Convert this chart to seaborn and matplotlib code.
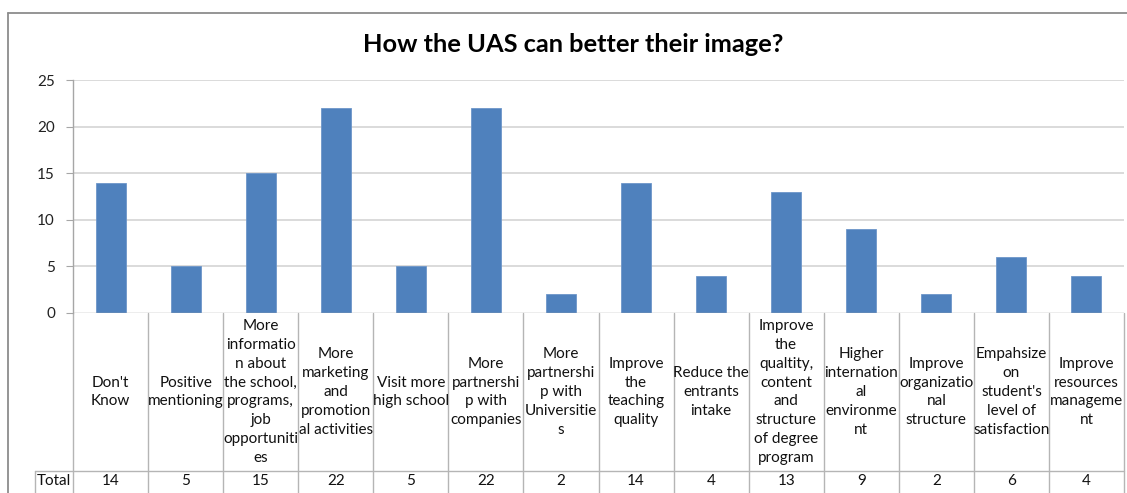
import matplotlib
matplotlib.use("Agg")
import matplotlib.pyplot as plt
from matplotlib.lines import Line2D
import seaborn as sns
import pandas as pd

# Survey answers: wrapped category names as shown in the data table
categories = [
    "Don't\nKnow",
    "Positive\nmentioning",
    "More\ninformatio\nn about\nthe school,\nprograms,\njob\nopportuniti\nes",
    "More\nmarketing\nand\npromotion\nal activities",
    "Visit more\nhigh school",
    "More\npartnershi\np with\ncompanies",
    "More\npartnershi\np with\nUniversitie\ns",
    "Improve\nthe\nteaching\nquality",
    "Reduce the\nentrants\nintake",
    "Improve\nthe\nqualtity,\ncontent\nand\nstructure\nof degree\nprogram",
    "Higher\ninternation\nal\nenvironme\nnt",
    "Improve\norganizatio\nnal\nstructure",
    "Empahsize\non\nstudent's\nlevel of\nsatisfaction",
    "Improve\nresources\nmanageme\nnt",
]
totals = [14, 5, 15, 22, 5, 22, 2, 14, 4, 13, 9, 2, 6, 4]
y_ticks = [0, 5, 10, 15, 20, 25]
title = "How the UAS can better their image?"
row_label = "Total"

sns.set_theme(style="white")
plt.rcParams["font.family"] = ["Lato", "DejaVu Sans"]

W, H = 1127, 493
fig = plt.figure(figsize=(W / 100, H / 100), dpi=100)
fig.patch.set_facecolor("white")

def fx(px):
    return px / W

def fy(py):
    return 1 - py / H

ax = fig.add_axes([fx(73), fy(313), fx(1124) - fx(73), fy(80) - fy(313)])

df = pd.DataFrame({"cat": [str(i) for i in range(len(totals))], "total": totals})
sns.barplot(data=df, x="cat", y="total", ax=ax, color="#4F81BD", saturation=1,
            width=0.4, edgecolor="#6d96c9", linewidth=0.6)

ax.set_xlim(-0.5, len(totals) - 0.5)
ax.set_ylim(0, 25)
ax.set_yticks(y_ticks)
ax.set_yticklabels([str(t) for t in y_ticks], fontsize=11, color="#222222")
ax.tick_params(axis="y", length=5, width=0.8, color="#a6a6a6", pad=8, left=True)
ax.tick_params(axis="x", bottom=False, labelbottom=False)
ax.set_xlabel("")
ax.set_ylabel("")
for yv in y_ticks[1:]:
    ax.axhline(yv, color="#d4d4d4", lw=1.2, zorder=0)
for side in ["top", "right", "bottom"]:
    ax.spines[side].set_visible(False)
ax.spines["left"].set_color("#a6a6a6")
ax.spines["left"].set_linewidth(1)
ax.axhline(0, color="#a6a6a6", lw=1, zorder=3)

# Data table beneath the plot
ah = 313 - 80
def ay(py):
    return (313 - py) / ah

table_color = "#b5b5b5"
tr = ax.get_xaxis_transform()
n = len(totals)
for i in range(n + 1):
    ax.add_line(Line2D([i - 0.5, i - 0.5], [0, ay(500)], transform=tr,
                       color=table_color, lw=1, clip_on=False))
ax.add_line(Line2D([-0.5, n - 0.5], [ay(471), ay(471)], transform=tr,
                   color=table_color, lw=1, clip_on=False))
fig.add_artist(Line2D([fx(35), fx(73)], [fy(471), fy(471)], color=table_color, lw=1))
fig.add_artist(Line2D([fx(35), fx(35)], [fy(471), fy(500)], color=table_color, lw=1))

for i, (lab, val) in enumerate(zip(categories, totals)):
    ax.text(i, ay(392), lab, transform=tr, ha="center", va="center",
            fontsize=11, color="#111111", linespacing=1.45, clip_on=False)
    ax.text(i, ay(481), str(val), transform=tr, ha="center", va="center",
            fontsize=11, color="#111111", clip_on=False)
fig.text(fx(54), fy(481), row_label, ha="center", va="center", fontsize=11, color="#111111")

fig.text(fx(573), fy(45), title, ha="center", va="center", fontsize=18.3,
         fontweight="bold", color="#000000")

# Chart frame
frame_color = "#8c8c8c"
fig.add_artist(Line2D([fx(8), 1.0], [fy(13), fy(13)], color=frame_color, lw=1.3))
fig.add_artist(Line2D([fx(8), fx(8)], [fy(13), 0], color=frame_color, lw=1.3))

fig.savefig("out.png", dpi=100, facecolor="white")
